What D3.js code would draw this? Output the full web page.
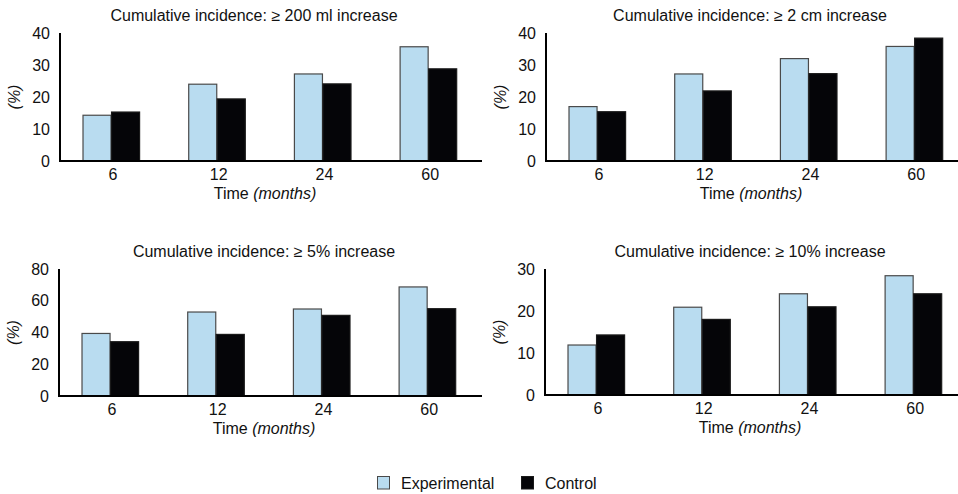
<!DOCTYPE html>
<html>
<head>
<meta charset="utf-8">
<script src="https://cdn.jsdelivr.net/npm/d3@7"></script>
<style>
  html, body { margin: 0; padding: 0; background: #fff; }
  svg { display: block; font-family: "Liberation Sans", Arial, Helvetica, sans-serif; }
</style>
</head>
<body>
<svg id="chart" width="958" height="494"></svg>
<script>
// ---- data ----
const categories = ["6", "12", "24", "60"];
const seriesNames = ["Experimental", "Control"];
const panelTitles = [
  "Cumulative incidence: \u2265 200 ml increase",
  "Cumulative incidence: \u2265 2 cm increase",
  "Cumulative incidence: \u2265 5% increase",
  "Cumulative incidence: \u2265 10% increase"
];
const experimental200ml = [14.3, 24.0, 27.2, 35.7];
const control200ml      = [15.3, 19.4, 24.1, 28.8];
const experimental2cm   = [17.0, 27.2, 32.0, 35.8];
const control2cm        = [15.4, 21.9, 27.3, 38.4];
const experimental5pct  = [39.4, 52.9, 54.8, 68.7];
const control5pct       = [34.2, 38.8, 50.8, 55.0];
const experimental10pct = [11.9, 20.9, 24.1, 28.4];
const control10pct      = [14.3, 18.0, 21.0, 24.1];
const yTicks200ml = [0, 10, 20, 30, 40];
const yTicks2cm   = [0, 10, 20, 30, 40];
const yTicks5pct  = [0, 20, 40, 60, 80];
const yTicks10pct = [0, 10, 20, 30];
const xAxisTitle = "Time";
const xAxisUnit = "(months)";
const yAxisTitle = "(%)";

// ---- layout (not data) ----
const FS = 16;
const colors = { Experimental: "#b9dcf0", Control: "#050508" };
const strokes = { Experimental: "#4a4a4a", Control: "#1a1a1a" };
const panels = [
  { ax: 60,  top: 33,  base: 161, xEnd: 482, titleDx: 194, exp: experimental200ml, ctl: control200ml, ticks: yTicks200ml, title: panelTitles[0] },
  { ax: 546, top: 33,  base: 161, xEnd: 958, titleDx: 204, exp: experimental2cm,   ctl: control2cm,   ticks: yTicks2cm,   title: panelTitles[1] },
  { ax: 59,  top: 269, base: 396, xEnd: 482, titleDx: 205, exp: experimental5pct,  ctl: control5pct,  ticks: yTicks5pct,  title: panelTitles[2] },
  { ax: 545, top: 269, base: 395, xEnd: 958, titleDx: 205, exp: experimental10pct, ctl: control10pct, ticks: yTicks10pct, title: panelTitles[3] }
];
const step = 105.7;

const svg = d3.select("#chart");

panels.forEach(p => {
  const g = svg.append("g");
  const x0 = p.ax - 1.8;
  const x = d3.scaleBand().domain(categories)
    .range([x0, x0 + 4 * step]).paddingInner(0.46).paddingOuter(0.23);
  const xs = d3.scaleBand().domain(seriesNames).range([0, x.bandwidth()]);
  const yMax = p.ticks[p.ticks.length - 1];
  const y = d3.scaleLinear().domain([0, yMax]).range([p.base, p.top]);

  const rows = categories.map((c, i) => ({ cat: c, Experimental: p.exp[i], Control: p.ctl[i] }));

  // bars
  rows.forEach(r => {
    seriesNames.forEach(s => {
      g.append("rect")
        .attr("x", x(r.cat) + xs(s) + 0.5)
        .attr("y", y(r[s]))
        .attr("width", xs.bandwidth() - 0.5)
        .attr("height", p.base - y(r[s]))
        .attr("fill", colors[s])
        .attr("stroke", strokes[s])
        .attr("stroke-width", 1.2);
    });
  });

  // y axis
  const yAxis = d3.axisLeft(y).tickValues(p.ticks).tickSize(0).tickPadding(10).tickFormat(d3.format("d"));
  const ya = g.append("g").attr("transform", `translate(${p.ax},0)`).call(yAxis);
  ya.select(".domain").remove();
  ya.selectAll("text").attr("font-size", FS).attr("fill", "#111").attr("font-family", "'Liberation Sans', Arial, sans-serif");
  g.append("line").attr("x1", p.ax).attr("x2", p.ax).attr("y1", p.top).attr("y2", p.base + 1)
    .attr("stroke", "#000").attr("stroke-width", 2);

  // x axis
  const xAxis = d3.axisBottom(x).tickSize(0).tickPadding(8);
  const xa = g.append("g").attr("transform", `translate(0,${p.base})`).call(xAxis);
  xa.select(".domain").remove();
  xa.selectAll("text").attr("font-size", FS).attr("fill", "#111").attr("dx", 2)
    .attr("font-family", "'Liberation Sans', Arial, sans-serif");
  g.append("line").attr("x1", p.ax - 1).attr("x2", p.xEnd).attr("y1", p.base).attr("y2", p.base)
    .attr("stroke", "#000").attr("stroke-width", 2);

  // titles
  g.append("text").attr("x", p.ax + p.titleDx).attr("y", p.top - 12.5)
    .attr("text-anchor", "middle").attr("font-size", FS).attr("fill", "#111").text(p.title);
  const xt = g.append("text").attr("x", p.ax + 205).attr("y", p.base + 38)
    .attr("text-anchor", "middle").attr("font-size", FS).attr("fill", "#111");
  xt.append("tspan").text(xAxisTitle + " ");
  xt.append("tspan").attr("font-style", "italic").text(xAxisUnit);
  g.append("text")
    .attr("transform", `translate(${p.ax - 40},${(p.top + p.base) / 2}) rotate(-90)`)
    .attr("text-anchor", "middle").attr("font-size", FS).attr("font-style", "italic")
    .attr("fill", "#111").text(yAxisTitle);
});

// legend
const legendX = { Experimental: 377, Control: 521 };
seriesNames.forEach(s => {
  const lg = svg.append("g").attr("transform", `translate(${legendX[s]},476)`);
  lg.append("rect").attr("x", 0.5).attr("y", 0.5).attr("width", 12).attr("height", 12.5)
    .attr("fill", colors[s]).attr("stroke", strokes[s]).attr("stroke-width", 1);
  lg.append("text").attr("x", 24).attr("y", 13).attr("font-size", FS).attr("fill", "#111").text(s);
});
</script>
</body>
</html>
